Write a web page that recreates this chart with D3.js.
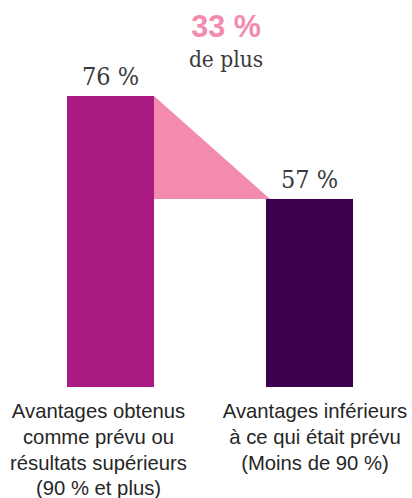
<!DOCTYPE html>
<html lang="fr">
<head>
<meta charset="utf-8">
<script src="https://cdn.jsdelivr.net/npm/d3@7"></script>
<style>
  html, body { margin: 0; padding: 0; background: #ffffff; }
  svg { display: block; }
</style>
</head>
<body>
<svg id="chart" width="412" height="498"></svg>
<script>
// Share of projects, by how the expected benefits were realised
const categories = ["obtenus", "inferieurs"];
const values = [76, 57];
const valueLabels = ["76 %", "57 %"];
const categoryLines = [
  ["Avantages obtenus", "comme prévu ou", "résultats supérieurs", "(90 % et plus)"],
  ["Avantages inférieurs", "à ce qui était prévu", "(Moins de 90 %)"]
];
const barColors = ["#a91a83", "#3d0050"];
const gapColor = "#f38bb1";
const diffLines = ["de plus"];

const svg = d3.select("#chart");

const x = d3.scaleBand()
  .domain(categories)
  .range([67, 353])
  .paddingInner(0.5628)
  .paddingOuter(0);

// truncated value axis: bars stand on a common floor line
const yFloor = 22.3;
const y = d3.scaleLinear().domain([yFloor, 76]).range([387, 96]);

const slabFont = "'DejaVu Serif Condensed', 'DejaVu Serif', serif";
const sansFont = "'Liberation Sans', Arial, Helvetica, sans-serif";

// gap wedge between the two bar tops
const x0 = x(categories[0]) + x.bandwidth();
const x1 = x(categories[1]) + 4;
svg.append("path")
  .attr("d", d3.line()([
    [x0, y(values[0])],
    [x0, y(values[1])],
    [x1, y(values[1])]
  ]) + "Z")
  .attr("fill", gapColor);

// bars
svg.selectAll("rect.bar")
  .data(values)
  .join("rect")
  .attr("class", "bar")
  .attr("x", (d, i) => x(categories[i]))
  .attr("width", x.bandwidth())
  .attr("y", d => y(d))
  .attr("height", d => y(yFloor) - y(d))
  .attr("fill", (d, i) => barColors[i]);

// value labels above the bars
svg.selectAll("text.value")
  .data(values)
  .join("text")
  .attr("class", "value")
  .attr("x", (d, i) => x(categories[i]) + x.bandwidth() / 2)
  .attr("y", d => y(d) - 11)
  .attr("text-anchor", "middle")
  .attr("font-family", slabFont)
  .attr("font-size", 25)
  .attr("fill", "#3a3a3a")
  .text((d, i) => valueLabels[i]);

// relative difference
const diffPct = Math.round((values[0] - values[1]) / values[1] * 100);
const diffX = (x0 + x1) / 2 + 14;
svg.append("text")
  .attr("x", diffX)
  .attr("y", 37)
  .attr("text-anchor", "middle")
  .attr("font-family", sansFont)
  .attr("font-weight", "bold")
  .attr("font-size", 30.5)
  .attr("fill", gapColor)
  .text(diffPct + " %");
svg.append("text")
  .attr("x", diffX)
  .attr("y", 67)
  .attr("text-anchor", "middle")
  .attr("font-family", slabFont)
  .attr("font-size", 22.5)
  .attr("fill", "#3a3a3a")
  .text(diffLines[0]);

// category labels under the bars
const labelOffsets = [-12, 5.5];
categoryLines.forEach((lines, i) => {
  const t = svg.append("text")
    .attr("x", x(categories[i]) + x.bandwidth() / 2 + labelOffsets[i])
    .attr("y", 418)
    .attr("text-anchor", "middle")
    .attr("font-family", sansFont)
    .attr("font-size", 20.3)
    .attr("fill", "#262626");
  lines.forEach((line, j) => {
    t.append("tspan")
      .attr("x", x(categories[i]) + x.bandwidth() / 2 + labelOffsets[i])
      .attr("dy", j === 0 ? 0 : 25.8)
      .text(line);
  });
});
</script>
</body>
</html>
